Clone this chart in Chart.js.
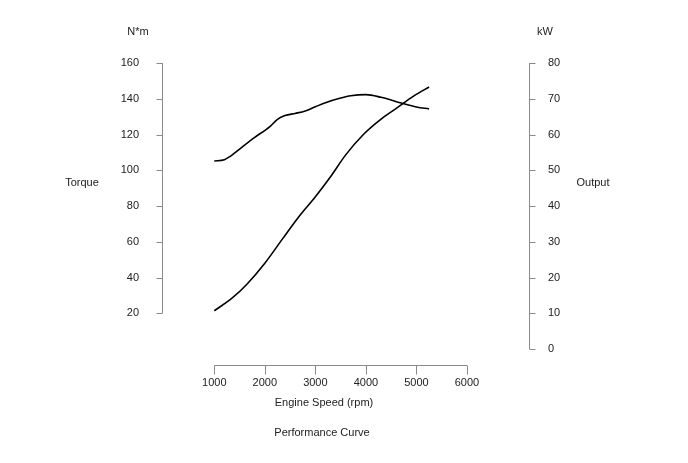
<!DOCTYPE html>
<html>
<head>
<meta charset="utf-8">
<script src="https://cdn.jsdelivr.net/npm/chart.js"></script>
<style>
  body { margin: 0; background: #fff; }
  #wrap { width: 688px; height: 463px; }
</style>
</head>
<body>
<div id="wrap"><canvas id="perfChart" width="688" height="463"></canvas></div>
<script>
// torque curve (N*m, left axis)
const torqueRpm = [1000, 1200, 1300, 1550, 1800, 2100, 2250, 2400, 2600, 2800, 3000, 3200, 3500, 3700, 4000, 4300, 4700, 5000, 5250];
const torqueVals = [105.2, 105.9, 107.5, 113, 118.4, 124.4, 128.5, 130.6, 131.8, 133.2, 135.5, 137.8, 140.4, 141.7, 142.3, 140.8, 137.6, 135.4, 134.3];

// output curve (kW, right axis)
const powerRpm = [1000, 1350, 1650, 2000, 2350, 2650, 3000, 3300, 3600, 3950, 4300, 4600, 4950, 5250];
const powerVals = [10.7, 14.2, 18.2, 24.0, 30.8, 36.6, 42.6, 48.2, 54.3, 60.0, 64.3, 67.3, 70.8, 73.3];

const rpmTicks = [1000, 2000, 3000, 4000, 5000, 6000];
const torqueTicks = [20, 40, 60, 80, 100, 120, 140, 160];
const powerTicks = [0, 10, 20, 30, 40, 50, 60, 70, 80];

const FONT = "'Liberation Sans', Arial, sans-serif";
const TEXT = '#222';
const AXIS = '#8a8a8a';

const toPoints = (xs, ys) => xs.map((x, i) => ({ x: x, y: ys[i] }));

// range-frame axes + free labels, placed from the chart's own scales
const frame = {
  id: 'frame',
  afterDraw(chart) {
    const { ctx, chartArea } = chart;
    const sx = chart.scales.x, st = chart.scales.yT, sp = chart.scales.yP;
    ctx.save();
    ctx.strokeStyle = AXIS;
    ctx.lineWidth = 1;

    const lx = chartArea.left - 0.5;
    ctx.beginPath();
    ctx.moveTo(lx, st.getPixelForValue(160));
    ctx.lineTo(lx, st.getPixelForValue(20));
    torqueTicks.forEach(v => {
      const y = Math.round(st.getPixelForValue(v)) + 0.5;
      ctx.moveTo(lx - 6, y);
      ctx.lineTo(lx, y);
    });
    ctx.stroke();

    const rx = chartArea.right + 0.5;
    ctx.beginPath();
    ctx.moveTo(rx, sp.getPixelForValue(80));
    ctx.lineTo(rx, sp.getPixelForValue(0));
    powerTicks.forEach(v => {
      const y = Math.round(sp.getPixelForValue(v)) + 0.5;
      ctx.moveTo(rx, y);
      ctx.lineTo(rx + 6, y);
    });
    ctx.stroke();

    const by = chartArea.bottom + 16 + 0.5;
    ctx.beginPath();
    ctx.moveTo(sx.getPixelForValue(1000), by);
    ctx.lineTo(sx.getPixelForValue(6000), by);
    rpmTicks.forEach(v => {
      const x = Math.round(sx.getPixelForValue(v)) + 0.5;
      ctx.moveTo(x, by);
      ctx.lineTo(x, by + 9);
    });
    ctx.stroke();

    ctx.fillStyle = TEXT;
    ctx.font = '11px ' + FONT;
    ctx.textAlign = 'center';
    ctx.textBaseline = 'middle';
    ctx.fillText('N*m', 138, 32);
    ctx.fillText('kW', 545, 32);
    ctx.fillText('Torque', 82, 183);
    ctx.fillText('Output', 593, 183);
    ctx.fillText('Engine Speed (rpm)', 324, 403);
    ctx.fillText('Performance Curve', 322, 433);
    ctx.restore();
  }
};

new Chart(document.getElementById('perfChart'), {
  type: 'line',
  data: {
    datasets: [
      {
        label: 'Torque',
        data: toPoints(torqueRpm, torqueVals),
        yAxisID: 'yT',
        borderColor: '#000',
        borderWidth: 1.6,
        pointRadius: 0,
        cubicInterpolationMode: 'monotone',
        fill: false
      },
      {
        label: 'Output',
        data: toPoints(powerRpm, powerVals),
        yAxisID: 'yP',
        borderColor: '#000',
        borderWidth: 1.6,
        pointRadius: 0,
        cubicInterpolationMode: 'monotone',
        fill: false
      }
    ]
  },
  options: {
    responsive: false,
    animation: false,
    events: [],
    layout: { padding: { top: 63, left: 0, right: 0, bottom: 0 } },
    plugins: { legend: { display: false }, tooltip: { enabled: false } },
    scales: {
      x: {
        type: 'linear',
        position: 'bottom',
        min: -15,
        max: 7227,
        grid: { display: false },
        border: { display: false },
        afterBuildTicks: s => { s.ticks = rpmTicks.map(v => ({ value: v })); },
        afterFit: s => { s.height = 114; },
        ticks: { padding: 19, color: TEXT, font: { family: FONT, size: 11 }, maxRotation: 0, callback: v => String(v) }
      },
      yT: {
        type: 'linear',
        position: 'left',
        min: 0,
        max: 160,
        grid: { display: false },
        border: { display: false },
        afterBuildTicks: s => { s.ticks = torqueTicks.map(v => ({ value: v })); },
        afterFit: s => { s.width = 163; },
        ticks: { padding: 16, color: TEXT, font: { family: FONT, size: 11 } }
      },
      yP: {
        type: 'linear',
        position: 'right',
        min: 0,
        max: 80,
        grid: { display: false },
        border: { display: false },
        afterBuildTicks: s => { s.ticks = powerTicks.map(v => ({ value: v })); },
        afterFit: s => { s.width = 159; },
        ticks: { padding: 11, color: TEXT, font: { family: FONT, size: 11 } }
      }
    }
  },
  plugins: [frame]
});
</script>
</body>
</html>
